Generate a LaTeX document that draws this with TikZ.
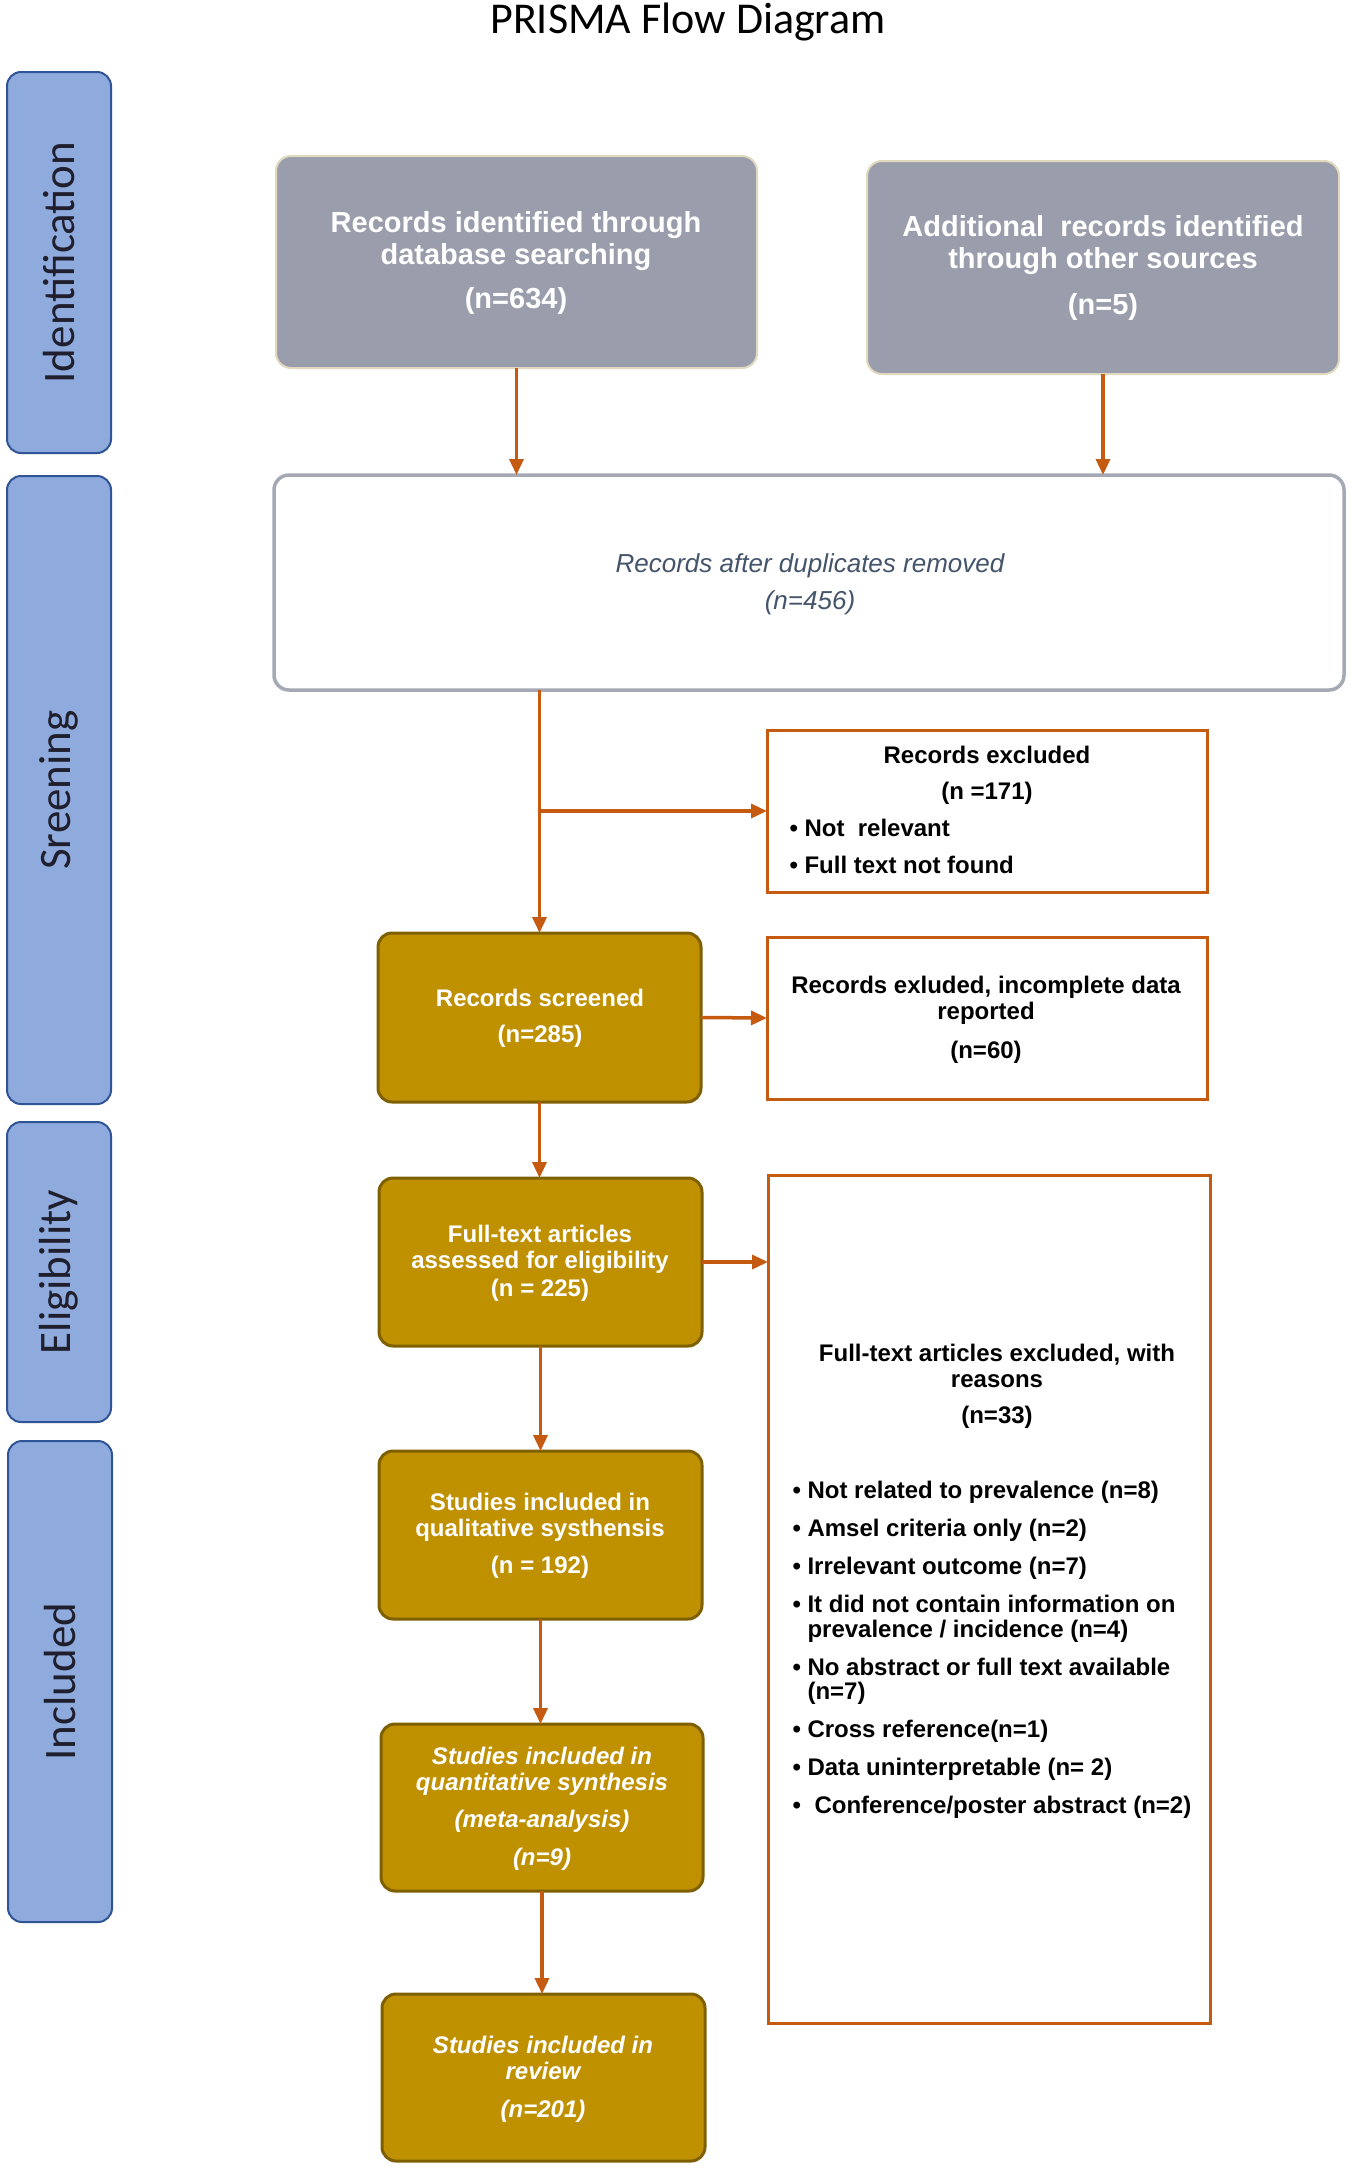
\documentclass[tikz,border=0pt]{standalone}
\usepackage{fontspec}
\setmainfont{Liberation Sans}
\newfontfamily\carlito{Carlito}
\usetikzlibrary{arrows.meta}
\definecolor{orng}{HTML}{C55A11}
\definecolor{gold}{HTML}{BF9000}
\definecolor{golddk}{HTML}{7F6000}
\definecolor{sideblue}{HTML}{8FAADC}
\definecolor{sidedk}{HTML}{2F5597}
\definecolor{grayfill}{HTML}{9A9DAB}
\definecolor{grayedge}{HTML}{E0D9C0}
\definecolor{wedge}{HTML}{A5A9B4}
\definecolor{slate}{HTML}{44546A}
\definecolor{sidetext}{HTML}{1F1F2E}
\newcommand\bitem[1]{\makebox[15pt][l]{\textbullet}#1}
\begin{document}
\begin{tikzpicture}[x=1pt,y=-1pt,
  box/.style={anchor=north west,inner sep=0pt,outer sep=0pt},
  sidebar/.style={box,fill=sideblue,draw=sidedk,line width=2pt,rounded corners=14pt},
  graybox/.style={box,fill=grayfill,draw=grayedge,line width=2pt,rounded corners=15pt},
  whitebox/.style={box,fill=white,draw=wedge,line width=3.5pt,rounded corners=15pt},
  goldbox/.style={box,fill=gold,draw=golddk,line width=3pt,rounded corners=14pt},
  orbox/.style={box,fill=white,draw=orng,line width=3pt},
  arr/.style={draw=orng,line width=3.5pt,-{Triangle[length=16pt,width=14pt]}},
  sidelabel/.style={rotate=90,text=sidetext,font=\carlito\fontsize{45}{50}\selectfont},
  graytext/.style={text=white,align=center,font=\bfseries\fontsize{29}{32}\selectfont},
  goldtext/.style={text=white,align=center,font=\bfseries\fontsize{24}{26}\selectfont},
  goldit/.style={text=white,align=center,font=\bfseries\itshape\fontsize{24}{26}\selectfont},
  ortext/.style={text=black,align=center,font=\bfseries\fontsize{24}{26}\selectfont},
]
\useasboundingbox (0,0) rectangle (1350,2171);
\fill[white] (0,0) rectangle (1350,2171);

% title
\node[anchor=base,font=\carlito\fontsize{44}{50}\selectfont] (title) at (688,33) {PRISMA Flow Diagram};

% side bars
\node[sidebar,minimum width=104pt,minimum height=381pt] (sid) at (7,72) {};
\node[sidebar,minimum width=104pt,minimum height=628pt] (ssc) at (7,476) {};
\node[sidebar,minimum width=104pt,minimum height=300pt] (sel) at (7,1122) {};
\node[sidebar,minimum width=104pt,minimum height=481pt] (sin) at (8,1441) {};
\node[sidelabel] (lid) at (sid.center) {Identification};
\node[sidelabel] (lsc) at (ssc.center) {Sreening};
\node[sidelabel] (lel) at (sel.center) {Eligibility};
\node[sidelabel] (lin) at (sin.center) {Included};

% boxes
\node[graybox,minimum width=481pt,minimum height=212pt] (g1) at (276,156) {};
\node[graybox,minimum width=472pt,minimum height=213pt] (g2) at (867,161) {};
\node[whitebox,minimum width=1070pt,minimum height=215pt] (w) at (274,475) {};
\node[orbox,minimum width=440pt,minimum height=162pt] (ex1) at (767,730) {};
\node[goldbox,minimum width=323pt,minimum height=169pt] (scr) at (378,933) {};
\node[orbox,minimum width=440pt,minimum height=162pt] (ex2) at (767,937) {};
\node[goldbox,minimum width=323pt,minimum height=168pt] (ft) at (379,1178) {};
\node[orbox,minimum width=442pt,minimum height=848pt] (big) at (768,1175) {};
\node[goldbox,minimum width=323pt,minimum height=168pt] (qual) at (379,1451) {};
\node[goldbox,minimum width=322pt,minimum height=167pt] (quant) at (381,1724) {};
\node[goldbox,minimum width=323pt,minimum height=167pt] (rev) at (382,1994) {};

% texts
\node[graytext] (t1) at (516,263) {Records identified through\\database searching\\[12pt](n=634)};
\node[graytext] (t2) at (1103,268) {Additional\ \ records identified\\through other sources\\[14pt](n=5)};
\node[text=slate,align=center,font=\itshape\fontsize{26}{37}\selectfont] (t3) at (810,584) {Records after duplicates removed\\(n=456)};
\node[ortext,font=\bfseries\fontsize{24}{36}\selectfont] (t4) at (987,775) {Records excluded\\(n =171)};
\node[ortext,align=left,anchor=west,font=\bfseries\fontsize{24}{37}\selectfont] (t5) at (786,846) {\bitem{Not\ \ relevant}\\\bitem{Full text not found}};
\node[goldtext] (t6) at (540,1018) {Records screened\\[10pt](n=285)};
\node[ortext] (t7) at (986,1020) {Records exluded, incomplete data\\reported\\[13pt](n=60)};
\node[goldtext] (t8) at (540,1263) {Full-text articles\\assessed for eligibility\\[2pt](n = 225)};
\node[ortext] (t9) at (997,1386) {Full-text articles excluded, with\\reasons\\[10pt](n=33)};
\node[ortext,align=left,anchor=north west,font=\bfseries\fontsize{24}{24.5}\selectfont] (t10) at (789,1478) {%
\bitem{Not related to prevalence (n=8)}\\[13.5pt]
\bitem{Amsel criteria only (n=2)}\\[13.5pt]
\bitem{Irrelevant outcome (n=7)}\\[13.5pt]
\bitem{It did not contain information on}\\
\hspace*{15pt}prevalence / incidence (n=4)\\[13.5pt]
\bitem{No abstract or full text available}\\
\hspace*{15pt}(n=7)\\[13.5pt]
\bitem{Cross reference(n=1)}\\[13.5pt]
\bitem{Data uninterpretable (n= 2)}\\[13.5pt]
\bitem{\hspace*{7pt}Conference/poster abstract (n=2)}};
\node[goldtext] (t11) at (540,1536) {Studies included in\\qualitative systhensis\\[11pt](n = 192)};
\node[goldit] (t12) at (542,1809) {Studies included in\\quantitative synthesis\\[11pt](meta-analysis)\\[12pt](n=9)};
\node[goldit] (t13) at (543,2079) {Studies included in\\review\\[12pt](n=201)};

% connectors
\draw[arr] (g1.south) -- (g1.south |- w.north);
\draw[arr] (g2.south) -- (g2.south |- w.north);
\draw[arr] (w.south -| scr.north) -- (scr.north);
\coordinate (br) at (scr.north |- ex1.west);
\draw[arr] (br) -- (ex1.west);
\draw[arr] (scr.east) -- (ex2.west);
\draw[arr] (scr.south) -- (scr.south |- ft.north);
\draw[arr] (ft.east) -- (ft.east -| big.west);
\draw[arr] (ft.south) -- (ft.south |- qual.north);
\draw[arr] (qual.south) -- (qual.south |- quant.north);
\draw[arr] (quant.south) -- (quant.south |- rev.north);
\end{tikzpicture}
\end{document}
